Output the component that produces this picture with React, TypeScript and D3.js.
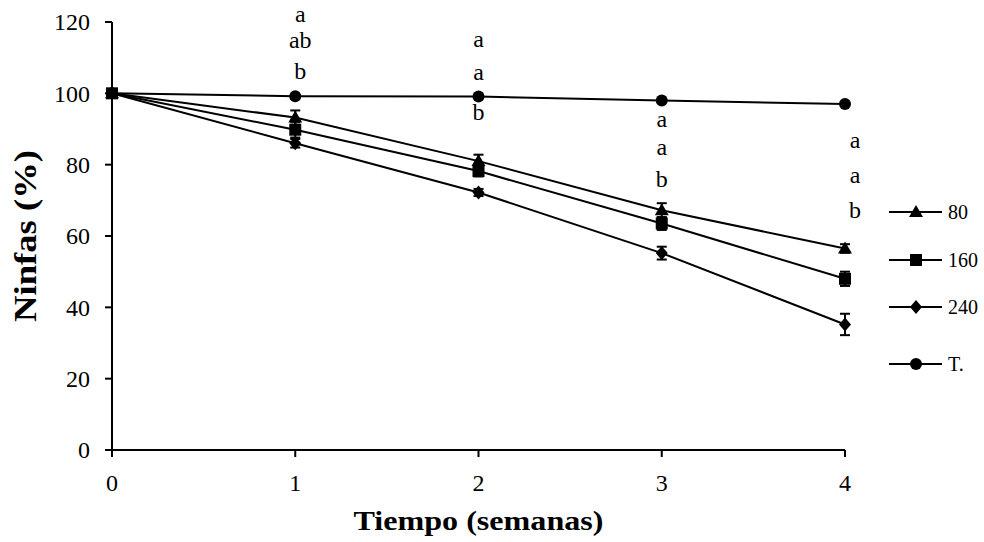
import * as React from "react";
import * as d3 from "d3";

const weeks = [0, 1, 2, 3, 4];
const yTicks = [0, 20, 40, 60, 80, 100, 120];

const s80 = [100, 93.2, 81, 67.2, 56.5];
const s160 = [100, 89.8, 78.2, 63.5, 48];
const s240 = [100, 86, 72.2, 55.2, 35.2];
const sT = [100, 99.2, 99.1, 98, 97];

const err80 = [0, 2, 1.8, 2, 1.2];
const err160 = [0, 2.2, 1.5, 1.8, 2];
const err240 = [0, 1.2, 1, 1.8, 3];
const errT = [0, 0, 0, 0, 0];

// significance letters per week, top to bottom; baselines in y-axis units
const letterWeeks = [1, 2, 3, 4];
const letterTexts = [["a", "ab", "b"], ["a", "a", "b"], ["a", "a", "b"], ["a", "a", "b"]];
const letterYs = [[120, 112.8, 104], [113, 103.7, 92.5], [90.6, 82.7, 73.6], [84.7, 74.9, 65]];

const series = [
  { name: "80", values: s80, err: err80, shape: "triangle" },
  { name: "160", values: s160, err: err160, shape: "square" },
  { name: "240", values: s240, err: err240, shape: "diamond" },
  { name: "T.", values: sT, err: errT, shape: "circle" },
];

const font = "'Liberation Serif', 'Times New Roman', serif";

const Marker = ({ shape, x, y }: { shape: string; x: number; y: number }) => {
  if (shape === "triangle")
    return <path d={`M${x},${y - 7}L${x + 7},${y + 5}L${x - 7},${y + 5}Z`} fill="#000" />;
  if (shape === "square") return <rect x={x - 6} y={y - 6} width={12} height={12} fill="#000" />;
  if (shape === "diamond")
    return <path d={`M${x},${y - 7}L${x + 6},${y}L${x},${y + 7}L${x - 6},${y}Z`} fill="#000" />;
  return <circle cx={x} cy={y} r={6} fill="#000" />;
};

export default function App() {
  const width = 984;
  const height = 542;
  const x = d3.scaleLinear().domain([0, 4]).range([112, 845]);
  const y = d3.scaleLinear().domain([0, 120]).range([450, 22]);
  const line = d3
    .line<number>()
    .x((_, i) => x(weeks[i]))
    .y((d) => y(d));

  const legendY = [212, 260, 307, 364];

  return (
    <svg width={width} height={height} style={{ position: "absolute", left: 0, top: 0, background: "#fff" }}>
      <rect width={width} height={height} fill="#fff" />
      {/* axes */}
      <line x1={x(0)} x2={x(0)} y1={y(120)} y2={y(0)} stroke="#000" strokeWidth={2} />
      <line x1={x(0)} x2={x(4)} y1={y(0)} y2={y(0)} stroke="#000" strokeWidth={2} />
      {yTicks.map((t) => (
        <g key={t}>
          <line x1={x(0) - 7} x2={x(0)} y1={y(t)} y2={y(t)} stroke="#000" strokeWidth={2} />
          <text x={x(0) - 22} y={y(t)} dy="0.35em" textAnchor="end" fontFamily={font} fontSize={24}>
            {t}
          </text>
        </g>
      ))}
      {weeks.map((w) => (
        <g key={w}>
          <line x1={x(w)} x2={x(w)} y1={y(0)} y2={y(0) + 7} stroke="#000" strokeWidth={2} />
          <text x={x(w)} y={y(0) + 41} textAnchor="middle" fontFamily={font} fontSize={24}>
            {w}
          </text>
        </g>
      ))}
      <text
        x={x(2)}
        y={530}
        textAnchor="middle"
        fontFamily={font}
        fontSize={27}
        fontWeight="bold"
        textLength={250}
        lengthAdjust="spacingAndGlyphs"
      >
        Tiempo (semanas)
      </text>
      <text
        transform={`translate(36,236) rotate(-90)`}
        textAnchor="middle"
        fontFamily={font}
        fontSize={31}
        fontWeight="bold"
        textLength={172}
        lengthAdjust="spacingAndGlyphs"
      >
        Ninfas (%)
      </text>
      {/* series */}
      {series.map((s) => (
        <g key={s.name}>
          <path d={line(s.values) || ""} fill="none" stroke="#000" strokeWidth={2} />
          {s.values.map((v, i) =>
            s.err[i] > 0 ? (
              <g key={i} stroke="#000" strokeWidth={2}>
                <line x1={x(weeks[i])} x2={x(weeks[i])} y1={y(v + s.err[i])} y2={y(v - s.err[i])} />
                <line x1={x(weeks[i]) - 5} x2={x(weeks[i]) + 5} y1={y(v + s.err[i])} y2={y(v + s.err[i])} />
                <line x1={x(weeks[i]) - 5} x2={x(weeks[i]) + 5} y1={y(v - s.err[i])} y2={y(v - s.err[i])} />
              </g>
            ) : null
          )}
          {s.values.map((v, i) => (
            <Marker key={i} shape={s.shape} x={x(weeks[i])} y={y(v)} />
          ))}
        </g>
      ))}
      {/* letters */}
      {letterWeeks.map((w, i) =>
        letterTexts[i].map((t, j) => (
          <text
            key={`${w}-${j}`}
            x={x(w) + (w === 4 ? 10 : w === 1 ? 5 : 0)}
            y={y(letterYs[i][j])}
            textAnchor="middle"
            fontFamily={font}
            fontSize={24}
          >
            {t}
          </text>
        ))
      )}
      {/* legend */}
      {series.map((s, i) => (
        <g key={s.name}>
          <line x1={889} x2={942} y1={legendY[i]} y2={legendY[i]} stroke="#000" strokeWidth={2} />
          <Marker shape={s.shape} x={916} y={legendY[i]} />
          <text x={948} y={legendY[i]} dy="0.35em" fontFamily={font} fontSize={20}>
            {s.name}
          </text>
        </g>
      ))}
    </svg>
  );
}
